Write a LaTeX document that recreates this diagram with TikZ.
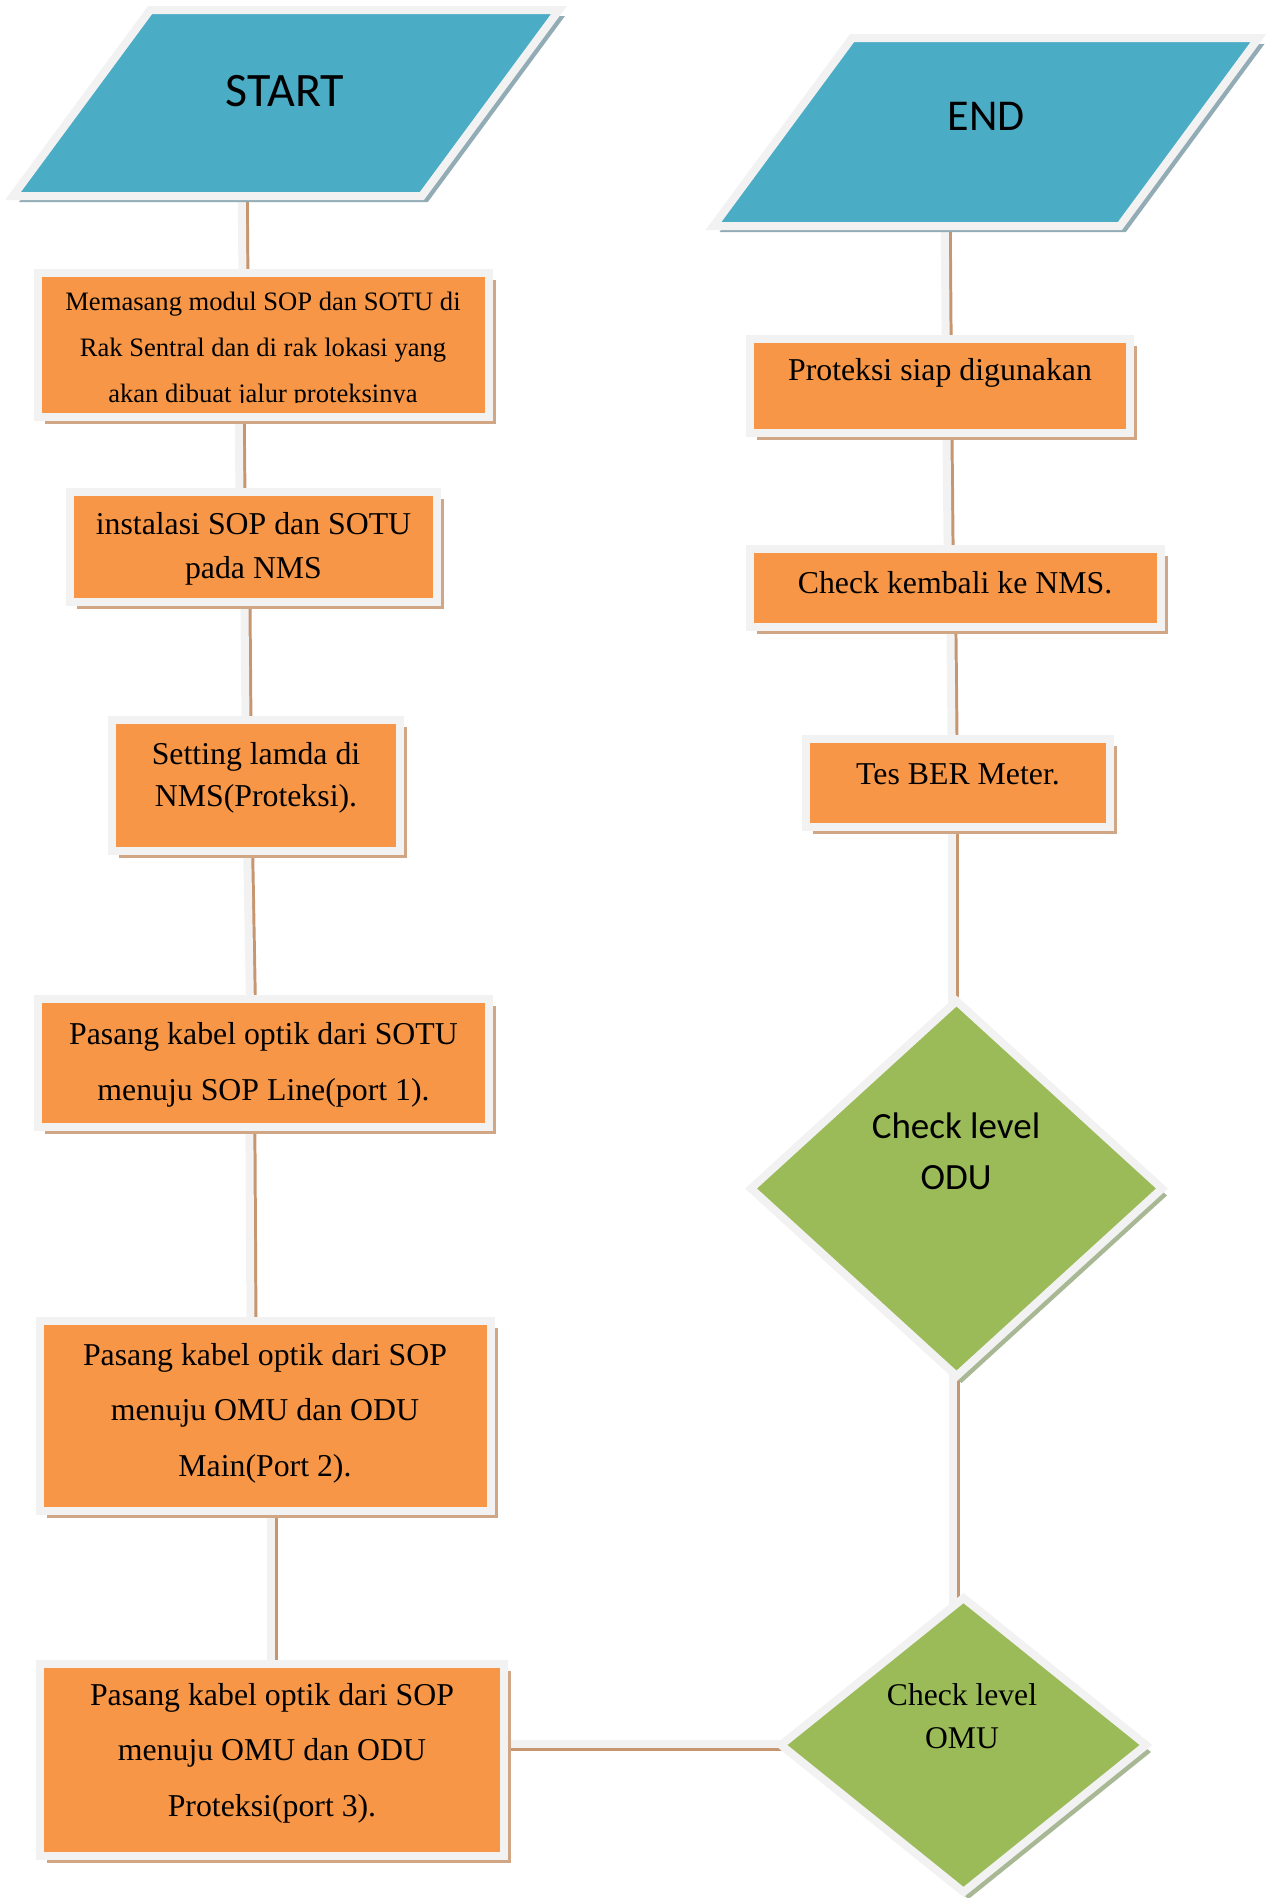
\documentclass[tikz,border=0pt]{standalone}
\usepackage{fontspec}
\setmainfont{Liberation Serif}
\newfontfamily\calibrifont{Carlito}
\usepackage{tikz}
\usetikzlibrary{
  shapes.geometric,
  shadows,
  backgrounds
}
\definecolor{flowBlue}{RGB}{75,172,198}
\definecolor{flowOrange}{RGB}{247,150,70}
\definecolor{flowGreen}{RGB}{155,187,89}
\definecolor{flowRim}{RGB}{242,242,242}
\definecolor{blueShade}{RGB}{146,172,182}
\definecolor{orangeShade}{RGB}{208,166,132}
\definecolor{greenShade}{RGB}{168,184,148}
\definecolor{linkTan}{RGB}{198,150,112}

\begin{document}
\begin{tikzpicture}[x=1pt, y=-1pt,
  rim/.style={draw=flowRim, line width=8pt, inner sep=0pt, outer sep=0pt},
  io/.style={rim, trapezium, trapezium left angle=53.6, trapezium right angle=126.4,
    trapezium stretches body, fill=flowBlue, text depth=0pt,
    drop shadow={shadow xshift=6pt, shadow yshift=-6pt, opacity=1, fill=blueShade}},
  proc/.style={rim, rectangle, fill=flowOrange,
    drop shadow={shadow xshift=7pt, shadow yshift=-7pt, opacity=1, fill=orangeShade}},
  decision/.style={rim, diamond, fill=flowGreen,
    drop shadow={shadow xshift=5pt, shadow yshift=-7pt, opacity=1, fill=greenShade}},
  link/.style={draw=flowRim, line width=8pt,
    preaction={draw=linkTan, line width=8pt, transform canvas={shift={(3pt,-3pt)}}}},
  lbl/.style={align=center, inner sep=0pt}
]
\useasboundingbox (0,0) rectangle (1271,1898);

% Left column
\node[io, text height=186pt, minimum width=546pt] (start) at (286,103) {};
\node[lbl, font=\calibrifont\fontsize{48}{58}\selectfont] (startTxt) at (285,91) {START};

\node[proc, minimum width=451pt, minimum height=144pt] (modul) at (263.5,345) {};
\begin{scope}
  \clip (modul.north west) rectangle ([yshift=15pt]modul.south east);
  \node[lbl, font=\fontsize{26.6}{46}\selectfont] (modulTxt) at (263,350)
    {Memasang modul SOP dan SOTU di\\Rak Sentral dan di rak lokasi yang\\akan dibuat jalur proteksinya};
\end{scope}

\node[proc, minimum width=367pt, minimum height=110pt] (instal) at (253.5,547) {};
\node[lbl, font=\fontsize{31.8}{43.6}\selectfont] (instalTxt) at (253.5,549)
  {instalasi SOP dan SOTU\\pada NMS};

\node[proc, minimum width=288pt, minimum height=131pt] (lamda) at (256,785.5) {};
\node[lbl, font=\fontsize{31.8}{42.4}\selectfont] (lamdaTxt) at (256,778)
  {Setting lamda di\\NMS(Proteksi).};

\node[proc, minimum width=451pt, minimum height=128pt] (sotu) at (263.5,1063) {};
\node[lbl, font=\fontsize{31.8}{55.5}\selectfont] (sotuTxt) at (263.5,1065)
  {Pasang kabel optik dari SOTU\\menuju SOP Line(port 1).};

\node[proc, minimum width=451pt, minimum height=190pt] (portdua) at (265.5,1416) {};
\node[lbl, font=\fontsize{31.8}{55.5}\selectfont] (portduaTxt) at (265,1413)
  {Pasang kabel optik dari SOP\\menuju OMU dan ODU\\Main(Port 2).};

\node[proc, minimum width=464pt, minimum height=192pt] (porttiga) at (272,1760) {};
\node[lbl, font=\fontsize{31.8}{55.5}\selectfont] (porttigaTxt) at (272,1753)
  {Pasang kabel optik dari SOP\\menuju OMU dan ODU\\Proteksi(port 3).};

% Right column
\node[io, text height=188pt, minimum width=545pt] (endio) at (986,132) {};
\node[lbl, font=\calibrifont\fontsize{44}{54}\selectfont] (endTxt) at (986,116) {END};

\node[proc, minimum width=380pt, minimum height=94pt] (siap) at (940,386) {};
\node[lbl, font=\fontsize{31.8}{40}\selectfont] (siapTxt) at (940,373) {Proteksi siap digunakan};

\node[proc, minimum width=411pt, minimum height=78pt] (cekNMS) at (955.5,588) {};
\node[lbl, font=\fontsize{31.8}{40}\selectfont] (cekNMSTxt) at (955,583) {Check kembali ke NMS.};

\node[proc, minimum width=304pt, minimum height=88pt] (ber) at (958,783) {};
\node[lbl, font=\fontsize{31.8}{40}\selectfont] (berTxt) at (958,774) {Tes BER Meter.};

\node[decision, minimum width=411pt, minimum height=375pt] (cekODU) at (956.5,1188.5) {};
\node[lbl, font=\calibrifont\fontsize{37}{51}\selectfont] (cekODUTxt) at (956,1151)
  {Check level\\ODU};

\node[decision, minimum width=365pt, minimum height=294pt] (cekOMU) at (963.5,1745) {};
\node[lbl, font=\fontsize{31.6}{43}\selectfont] (cekOMUTxt) at (962,1716)
  {Check level\\OMU};

% Connectors
\begin{scope}[on background layer]
  \draw[link] ([xshift=-45pt]start.center)     -- ([xshift=-20.5pt]modul.center);
  \draw[link] ([xshift=-25.5pt]modul.center)   -- ([xshift=-13.5pt]instal.center);
  \draw[link] ([xshift=-9.5pt]instal.center)   -- ([xshift=-10pt]lamda.center);
  \draw[link] ([xshift=-10pt]lamda.center)     -- ([xshift=-12.5pt]sotu.center);
  \draw[link] ([xshift=-14.5pt]sotu.center)    -- ([xshift=-14.5pt]portdua.center);
  \draw[link] ([xshift=5.5pt]portdua.center)   -- ([xshift=-1pt]porttiga.center);
  \draw[link] ([yshift=16.5pt]porttiga.center) -- ([yshift=1.5pt]cekOMU.center);
  \draw[link] ([xshift=-3.5pt]cekODU.center)   -- ([xshift=-10.5pt]cekOMU.center);
  \draw[link] ([xshift=-6pt]ber.center)        -- ([xshift=-4.5pt]cekODU.center);
  \draw[link] ([xshift=-5.5pt]cekNMS.center)   -- ([xshift=-6pt]ber.center);
  \draw[link] ([xshift=6pt]siap.center)        -- ([xshift=-7.5pt]cekNMS.center);
  \draw[link] ([xshift=-42pt]endio.center)     -- ([xshift=6pt]siap.center);
\end{scope}

\end{tikzpicture}
\end{document}
